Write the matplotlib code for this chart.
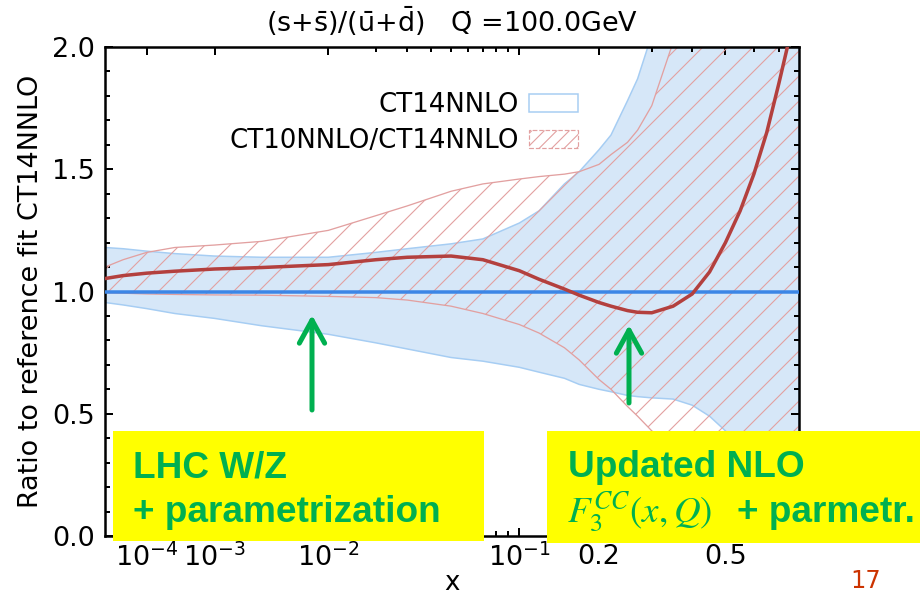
import numpy as np
import matplotlib.pyplot as plt
from matplotlib.patches import Patch, Rectangle, FancyArrowPatch
from matplotlib.ticker import FixedLocator, FixedFormatter, MultipleLocator, NullFormatter

# values
x_vals = [9e-6, 3e-5, 1e-4, 3e-4, 1e-3, 3e-3, 1e-2, 0.02, 0.03, 0.05, 0.07, 0.1, 0.12, 0.15,
          0.17, 0.2, 0.22, 0.25, 0.27, 0.3, 0.35, 0.4, 0.45, 0.5, 0.55, 0.6, 0.65, 0.7, 0.75, 0.79]
ct14_hi = [1.18, 1.175, 1.165, 1.155, 1.145, 1.14, 1.14, 1.16, 1.175, 1.195, 1.215, 1.28, 1.33, 1.44,
           1.49, 1.58, 1.64, 1.78, 1.87, 2.05, 2.4, 2.8, 3.2, 3.6, 4.0, 4.4, 4.8, 5.2, 5.6, 6.0]
ct14_lo = [0.955, 0.945, 0.93, 0.91, 0.89, 0.86, 0.825, 0.79, 0.765, 0.73, 0.715, 0.69, 0.67, 0.645,
           0.62, 0.60, 0.59, 0.575, 0.57, 0.565, 0.56, 0.535, 0.49, 0.43, 0.36, 0.30, 0.25, 0.20, 0.15, 0.10]
ct10_mid = [1.053, 1.065, 1.075, 1.083, 1.092, 1.098, 1.11, 1.13, 1.14, 1.145, 1.13, 1.085, 1.05, 1.01,
            0.985, 0.955, 0.94, 0.922, 0.915, 0.913, 0.94, 0.99, 1.08, 1.20, 1.33, 1.48, 1.65, 1.85, 2.05, 2.25]
ct10_hi = [1.10, 1.13, 1.16, 1.18, 1.19, 1.205, 1.25, 1.31, 1.35, 1.41, 1.44, 1.46, 1.47, 1.48,
           1.49, 1.52, 1.56, 1.61, 1.66, 1.76, 2.02, 2.5, 3.0, 3.5, 4.0, 4.5, 5.0, 5.5, 6.0, 6.5]
ct10_lo = [0.995, 0.993, 0.99, 0.988, 0.986, 0.985, 0.98, 0.975, 0.965, 0.94, 0.91, 0.865, 0.83, 0.77,
           0.72, 0.64, 0.60, 0.53, 0.49, 0.43, 0.36, 0.30, 0.25, 0.20, 0.16, 0.13, 0.10, 0.08, 0.06, 0.05]

xticks = [1e-4, 1e-3, 1e-2, 0.1, 0.2, 0.5]
xticklabels = ['$10^{-4}$', '$10^{-3}$', '$10^{-2}$', '$10^{-1}$', '0.2', '0.5']
xminor = [0.02, 0.03, 0.04, 0.05, 0.06, 0.07, 0.08, 0.09, 0.3, 0.4, 0.6, 0.7]

DPI = 150
W, H = 920, 597


def pt(px):
    return px * 72 / DPI


BLUE_FILL = '#d6e7f8'
BLUE_EDGE = '#a6cdf3'
BLUE_LINE = '#3c86e6'
RED_LINE = '#b3403e'
HATCH = '#e2a0a0'
GREEN = '#00b050'

plt.rcParams['hatch.color'] = HATCH
plt.rcParams['hatch.linewidth'] = pt(1.1)

fig = plt.figure(figsize=(W / DPI, H / DPI), dpi=DPI)
ax = fig.add_axes([105 / W, 1 - 536 / H, (799 - 105) / W, (536 - 47) / H])

p = 0.225
ax.set_xscale('function', functions=(lambda v: np.power(np.maximum(v, 1e-12), p),
                                     lambda v: np.power(np.maximum(v, 0), 1 / p)))
ax.set_xlim(9e-6, 0.79)
ax.set_ylim(0, 2.0)

ax.fill_between(x_vals, ct14_lo, ct14_hi, facecolor=BLUE_FILL, edgecolor=BLUE_EDGE,
                linewidth=pt(1.5), zorder=1)
ax.fill_between(x_vals, ct10_lo, ct10_hi, facecolor='none', edgecolor=HATCH, hatch='//',
                linewidth=0, zorder=2)
ax.plot(x_vals, ct10_hi, color=HATCH, lw=pt(1.3), zorder=2.5)
ax.plot(x_vals, ct10_lo, color=HATCH, lw=pt(1.3), zorder=2.5)
ax.axhline(1.0, color=BLUE_LINE, lw=pt(3.5), zorder=3)
ax.plot(x_vals, ct10_mid, color=RED_LINE, lw=pt(3.5), zorder=4)

# ticks
ax.xaxis.set_major_locator(FixedLocator(xticks))
ax.xaxis.set_major_formatter(FixedFormatter(xticklabels))
ax.xaxis.set_minor_locator(FixedLocator(xminor))
ax.xaxis.set_minor_formatter(NullFormatter())
ax.yaxis.set_major_locator(MultipleLocator(0.5))
ax.yaxis.set_minor_locator(MultipleLocator(0.1))
ax.yaxis.set_major_formatter(lambda v, pos: f'{v:.1f}')
ax.tick_params(which='both', direction='in', top=True, right=True, width=pt(2),
               labelsize=pt(27), colors='black')
ax.tick_params(which='major', length=pt(8))
ax.tick_params(which='minor', length=pt(5))
ax.tick_params(axis='x', pad=pt(8))
ax.tick_params(axis='y', pad=pt(10))
for s in ax.spines.values():
    s.set_linewidth(pt(2.5))

# legend
handles = [Patch(facecolor='white', edgecolor=BLUE_EDGE, linewidth=pt(1.5)),
           Patch(facecolor='white', edgecolor=HATCH, hatch='////', linewidth=pt(1.2), linestyle='--')]
fs = 26
ax.legend(handles, ['CT14NNLO', 'CT10NNLO/CT14NNLO'], loc='upper right',
          bbox_to_anchor=(578 / W, 1 - 92 / H), bbox_transform=fig.transFigure,
          frameon=False, markerfirst=False, fontsize=pt(fs), handlelength=49 / fs,
          handleheight=18 / fs, handletextpad=10 / fs, labelspacing=10 / fs,
          borderpad=0, borderaxespad=0)

# title and labels
fig.text(452 / W, 1 - 21 / H, r'(s+$\bar{\rm s}$)/($\bar{\rm u}$+$\bar{\rm d}$)   Q' + '\u0308' + ' =100.0GeV',
         ha='center', va='center', fontsize=pt(27))
fig.text(31 / W, 1 - 291 / H, 'Ratio to reference fit CT14NNLO', rotation=90,
         ha='center', va='center', fontsize=pt(27))
fig.text(452 / W, 1 - 583 / H, 'x', ha='center', va='center', fontsize=pt(26))

# yellow callouts
for x0, x1, y0, y1 in [(113, 484, 431, 541), (547, 920, 431, 543)]:
    fig.patches.append(Rectangle((x0 / W, 1 - y1 / H), (x1 - x0) / W, (y1 - y0) / H,
                                 transform=fig.transFigure, facecolor='#ffff00',
                                 edgecolor='none', zorder=5))
bold = dict(color=GREEN, fontsize=pt(37), fontweight='bold', family='Liberation Sans',
            va='baseline', zorder=6)
fig.text(133 / W, 1 - 477 / H, 'LHC W/Z', **bold)
fig.text(133 / W, 1 - 522 / H, '+ parametrization', **bold)
fig.text(568 / W, 1 - 477 / H, 'Updated NLO', **bold)
fig.text(737 / W, 1 - 522 / H, '+ parmetr.', **bold)
fig.text(567 / W, 1 - 522 / H, r'$F_3^{CC}(x,Q)$', color=GREEN, fontsize=pt(37),
         math_fontfamily='stix', va='baseline', zorder=6)

for xa, ya0, ya1 in [(312, 410, 315), (629, 403, 325)]:
    fig.add_artist(FancyArrowPatch((xa / W, 1 - ya0 / H), (xa / W, 1 - ya1 / H),
                                   transform=fig.transFigure,
                                   arrowstyle='->,head_length=1.0,head_width=0.55',
                                   mutation_scale=pt(23), color=GREEN, lw=pt(5),
                                   shrinkA=0, shrinkB=0, zorder=6))

fig.text(866 / W, 1 - 588 / H, '17', color='#cc3300', fontsize=pt(24), ha='center', va='baseline')

fig.savefig('out.png', dpi=DPI)
